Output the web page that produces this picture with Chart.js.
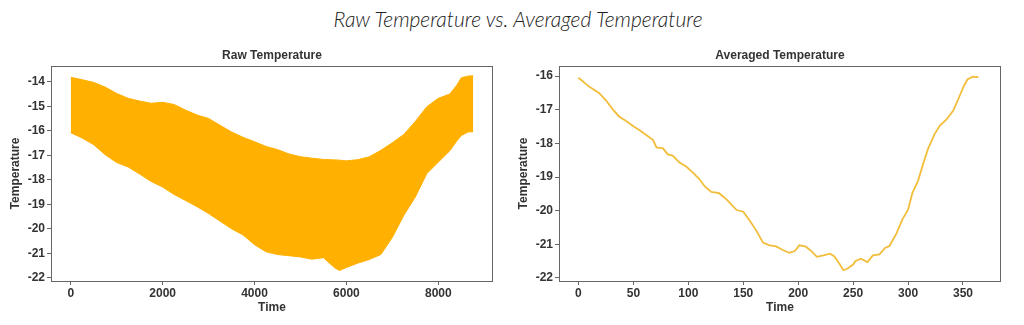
<!DOCTYPE html>
<html>
<head>
<meta charset="utf-8">
<script src="https://cdn.jsdelivr.net/npm/chart.js@4.4.1/dist/chart.umd.min.js"></script>
<style>
  html, body { margin: 0; padding: 0; background: #fff; width: 1024px; height: 325px; overflow: hidden; }
  #title { position: absolute; left: 0; top: 6px; width: 1036px; text-align: center;
           font: italic 300 21px Lato, "Open Sans", sans-serif; color: #222; }
  .box { position: absolute; top: 0; width: 512px; height: 325px; }
</style>
</head>
<body>
<div id="title">Raw Temperature vs. Averaged Temperature</div>
<div class="box" style="left:0"><canvas id="raw" width="512" height="325"></canvas></div>
<div class="box" style="left:512px"><canvas id="avg" width="512" height="325"></canvas></div>
<script>
// Hourly readings: daily high / low envelope of the raw temperature trace
const rawHours = [0, 250, 500, 750, 1000, 1250, 1500, 1750, 2000, 2250, 2500, 2750, 3000, 3250, 3500,
  3750, 4000, 4250, 4500, 4750, 5000, 5250, 5500, 5750, 5850, 6000, 6250, 6500, 6750, 7000,
  7250, 7500, 7750, 8000, 8250, 8400, 8500, 8650, 8760];
const rawUpper = [-13.82, -13.92, -14.03, -14.22, -14.48, -14.68, -14.79, -14.88, -14.84, -14.93,
  -15.16, -15.36, -15.50, -15.78, -16.05, -16.27, -16.45, -16.64, -16.77, -16.95,
  -17.06, -17.12, -17.17, -17.19, -17.20, -17.23, -17.18, -17.06, -16.80, -16.49,
  -16.15, -15.62, -15.02, -14.68, -14.50, -14.15, -13.84, -13.77, -13.76];
const rawLower = [-16.08, -16.30, -16.57, -16.98, -17.30, -17.48, -17.77, -18.07, -18.30, -18.60,
  -18.85, -19.10, -19.38, -19.69, -20.00, -20.25, -20.65, -20.94, -21.05, -21.10,
  -21.15, -21.24, -21.18, -21.60, -21.70, -21.58, -21.40, -21.25, -21.05, -20.35,
  -19.45, -18.70, -17.75, -17.28, -16.82, -16.42, -16.20, -16.05, -16.04];

// Daily averaged temperature
const avgDays = [0, 10, 19, 25, 31, 37, 43, 50, 56, 62, 68, 71, 77, 81, 86, 92, 98, 104, 110, 115,
  121, 128, 135, 144, 150, 156, 162, 168, 174, 180, 186, 192, 197, 201, 207, 212, 217, 223, 229, 233,
  238, 241, 245, 250, 252, 257, 263, 268, 274, 279, 283, 289, 295, 300, 304, 309, 314, 318, 324, 329,
  335, 341, 345, 350, 354, 359, 364];
const avgTemp = [-16.05, -16.32, -16.51, -16.72, -16.98, -17.20, -17.33, -17.49, -17.62, -17.76,
  -17.90, -18.12, -18.15, -18.32, -18.37, -18.57, -18.69, -18.86, -19.06, -19.28,
  -19.44, -19.48, -19.67, -19.98, -20.03, -20.30, -20.60, -20.95, -21.03, -21.06,
  -21.17, -21.25, -21.20, -21.03, -21.07, -21.20, -21.37, -21.33, -21.28, -21.36,
  -21.60, -21.77, -21.72, -21.60, -21.50, -21.43, -21.53, -21.33, -21.30, -21.11,
  -21.05, -20.71, -20.25, -19.97, -19.47, -19.12, -18.58, -18.18, -17.73, -17.47,
  -17.29, -17.03, -16.74, -16.35, -16.10, -16.02, -16.03];

// Tick labels
const rawTimeTicks = [0, 2000, 4000, 6000, 8000];
const rawTempTicks = [-22, -21, -20, -19, -18, -17, -16, -15, -14];
const avgDayTicks = [0, 50, 100, 150, 200, 250, 300, 350];
const avgTempTicks = [-22, -21, -20, -19, -18, -17, -16];

const INK = '#333';
const FRAME = '#666';
const RAW_FILL = '#FFB000';
const AVG_LINE = '#F2BD3A';

Chart.defaults.font.family = '"Liberation Sans", Arial, sans-serif';
Chart.defaults.color = INK;

const pairs = (xs, ys) => xs.map((x, i) => ({ x, y: ys[i] }));

// Box around the plot area plus the panel heading above it
const framePlugin = {
  id: 'frame',
  afterDraw(chart, args, opts) {
    const { ctx, chartArea: a } = chart;
    ctx.save();
    ctx.strokeStyle = FRAME;
    ctx.lineWidth = 1;
    ctx.strokeRect(Math.round(a.left) + 0.5, Math.round(a.top) + 0.5,
                   Math.round(a.right - a.left) - 1, Math.round(a.bottom - a.top));
    ctx.fillStyle = INK;
    ctx.font = 'bold 12px "Liberation Sans", Arial, sans-serif';
    ctx.textAlign = 'center';
    ctx.textBaseline = 'middle';
    ctx.fillText(opts.text, (a.left + a.right) / 2, 56);
    ctx.restore();
  }
};

function axisOptions(o) {
  const tickFont = { size: 12, weight: 'bold' };
  const titleFont = { size: 12, weight: 'bold' };
  const grid = { display: true, drawOnChartArea: false, drawTicks: true, tickLength: 4, color: FRAME };
  const plain = v => String(v);
  return {
    x: {
      type: 'linear', min: o.xMin, max: o.xMax,
      grid, border: { display: false },
      ticks: { font: tickFont, color: INK, padding: 1, maxRotation: 0, callback: plain },
      afterBuildTicks: s => { s.ticks = o.xTicks.map(v => ({ value: v })); },
      afterFit: s => { s.height = 44; },
      title: { display: true, text: 'Time', font: titleFont, color: INK, padding: { top: 0, bottom: 10 } }
    },
    y: {
      type: 'linear', min: o.yMin, max: o.yMax,
      grid, border: { display: false },
      ticks: { font: tickFont, color: INK, padding: 2, callback: plain },
      afterBuildTicks: s => { s.ticks = o.yTicks.map(v => ({ value: v })); },
      afterFit: s => { s.width = o.yWidth; },
      title: { display: true, text: 'Temperature', font: titleFont, color: INK, padding: { top: o.yTitlePad, bottom: 0 } }
    }
  };
}

function baseOptions(o) {
  return {
    responsive: false,
    animation: false,
    events: [],
    layout: { padding: { top: 66, right: o.rightPad, left: 0, bottom: 0 } },
    plugins: { legend: { display: false }, tooltip: { enabled: false }, frame: { text: o.title } },
    scales: axisOptions(o)
  };
}

new Chart(document.getElementById('raw'), {
  type: 'line',
  data: {
    datasets: [
      { data: pairs(rawHours, rawLower), borderColor: RAW_FILL, borderWidth: 1, pointRadius: 0, fill: false },
      { data: pairs(rawHours, rawUpper), borderColor: RAW_FILL, borderWidth: 1, pointRadius: 0,
        backgroundColor: RAW_FILL, fill: '-1' }
    ]
  },
  options: baseOptions({
    title: 'Raw Temperature',
    xMin: -430, xMax: 9190, yMin: -22.13, yMax: -13.36,
    xTicks: rawTimeTicks, yTicks: rawTempTicks,
    yWidth: 51, rightPad: 19, yTitlePad: 8
  }),
  plugins: [framePlugin]
});

new Chart(document.getElementById('avg'), {
  type: 'line',
  data: {
    datasets: [
      { data: pairs(avgDays, avgTemp), borderColor: AVG_LINE, borderWidth: 1.8, pointRadius: 0,
        fill: false, tension: 0 }
    ]
  },
  options: baseOptions({
    title: 'Averaged Temperature',
    xMin: -17.7, xMax: 384.6, yMin: -22.09, yMax: -15.70,
    xTicks: avgDayTicks, yTicks: avgTempTicks,
    yWidth: 47, rightPad: 23, yTitlePad: 4
  }),
  plugins: [framePlugin]
});
</script>
</body>
</html>
